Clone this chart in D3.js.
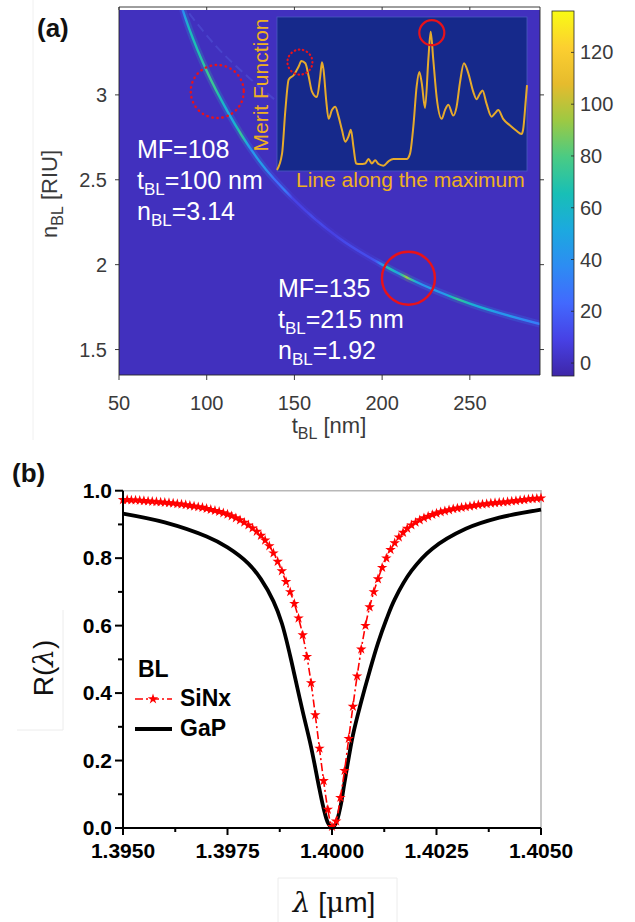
<!DOCTYPE html>
<html>
<head>
<meta charset="utf-8">
<script src="https://cdn.jsdelivr.net/npm/d3@7"></script>
<style>
  body { margin: 0; background: #fff; }
  svg { display: block; font-family: "Liberation Sans", Arial, Helvetica, sans-serif; }
</style>
</head>
<body>
<svg id="canvas"></svg>
<script>
// ---------- panel (a) data ----------
let tTicks = [50, 100, 150, 200, 250];
let nTicks = [1.5, 2, 2.5, 3];
let cbTicks = [0, 20, 40, 60, 80, 100, 120];

// ridge of the merit-function maximum (t_BL nm, n_BL)
let ridgeT = [84, 90, 100, 112, 130, 150, 175, 200, 215, 250, 290];
let ridgeN = [3.57, 3.39, 3.14, 2.90, 2.61, 2.38, 2.16, 2.0, 1.92, 1.77, 1.65];
// faint side streak next to the ridge
let streakT = [90, 105, 122, 139];
let streakN = [3.48, 3.29, 3.12, 2.97];

// merit function along the maximum (inset)
let meritT = [80, 84.4, 87.3, 90.2, 94.5, 98.9, 101.2, 104.7, 107.6, 110.5, 114.8, 117.7, 119.2, 120.6,
  122.9, 125, 127.9, 130.8, 133.7, 136.6, 139.5, 142.4, 144.4, 146.7, 149, 152.5, 156.9, 159.8, 162.7,
  165.6, 168.5, 172.8, 177.2, 181.5, 187.3, 193.1, 196, 198.9, 201.8, 204.1, 206.2, 209.1, 212, 214,
  216.3, 219.2, 223.6, 226.5, 229.4, 233.7, 236.6, 239.5, 243, 246.8, 251.1, 254, 256.9, 259.2, 262.7,
  267.1, 270, 272.9, 277.2, 283, 288.8, 293.2, 294.6, 296.9, 298];
let meritMF = [8, 23, 63, 91, 95, 103, 108, 106, 94, 80, 75, 94, 107, 100,
  72, 55, 63, 66, 57, 45, 34, 39, 45, 29, 14, 13.5, 14, 18, 14,
  17, 13.5, 12, 16, 18, 18, 18, 23, 48, 85, 98, 88, 65, 110, 135,
  109, 75, 55, 63, 68, 58, 66, 88, 106, 97, 80, 73, 78, 81, 69,
  57, 60, 63, 55, 49, 44, 41, 45, 72, 86];

// marked optima
let optima = [
  { mf: 108, t: 100, n: 3.14, ct: 106, cn: 3.02, dotted: true },
  { mf: 135, t: 215, n: 1.92, ct: 215, cn: 1.92, dotted: false }
];

// ---------- panel (b) data ----------
let lamTicks = [1.395, 1.3975, 1.4, 1.4025, 1.405];
let lamMinor = [1.39625, 1.39875, 1.40125, 1.40375];
let rTicks = [0, 0.2, 0.4, 0.6, 0.8, 1.0];
let rMinor = [0.1, 0.3, 0.5, 0.7, 0.9];

let sinxLam = [
  1.3950, 1.3951, 1.3952, 1.3953, 1.3954, 1.3955, 1.3956, 1.3957, 1.3958, 1.3959,
  1.3960, 1.3961, 1.3962, 1.3963, 1.3964, 1.3965, 1.3966, 1.3967, 1.3968, 1.3969,
  1.3970, 1.3971, 1.3972, 1.3973, 1.3974, 1.3975, 1.3976, 1.3977, 1.3978, 1.3979,
  1.3980, 1.3981, 1.3982, 1.3983, 1.3984, 1.3985, 1.3986, 1.3987, 1.3988, 1.3989,
  1.3990, 1.3991, 1.3992, 1.3993, 1.3994, 1.3995, 1.3996, 1.3997, 1.3998, 1.3999,
  1.4000, 1.4001, 1.4002, 1.4003, 1.4004, 1.4005, 1.4006, 1.4007, 1.4008, 1.4009,
  1.4010, 1.4011, 1.4012, 1.4013, 1.4014, 1.4015, 1.4016, 1.4017, 1.4018, 1.4019,
  1.4020, 1.4021, 1.4022, 1.4023, 1.4024, 1.4025, 1.4026, 1.4027, 1.4028, 1.4029,
  1.4030, 1.4031, 1.4032, 1.4033, 1.4034, 1.4035, 1.4036, 1.4037, 1.4038, 1.4039,
  1.4040, 1.4041, 1.4042, 1.4043, 1.4044, 1.4045, 1.4046, 1.4047, 1.4048, 1.4049,
  1.4050];
let sinxR = [
  0.973, 0.973, 0.972, 0.972, 0.971, 0.970, 0.969, 0.968, 0.967, 0.966,
  0.965, 0.964, 0.963, 0.961, 0.960, 0.958, 0.956, 0.954, 0.952, 0.950,
  0.947, 0.944, 0.941, 0.938, 0.934, 0.930, 0.925, 0.919, 0.913, 0.906,
  0.898, 0.889, 0.879, 0.867, 0.853, 0.836, 0.815, 0.790, 0.762, 0.730,
  0.700, 0.665, 0.622, 0.572, 0.508, 0.430, 0.335, 0.236, 0.140, 0.055,
  0.004,
  0.020, 0.090, 0.170, 0.265, 0.360, 0.450, 0.530, 0.600, 0.655, 0.700,
  0.738, 0.772, 0.800, 0.825, 0.845, 0.862, 0.876, 0.888, 0.898, 0.906,
  0.913, 0.919, 0.924, 0.929, 0.933, 0.937, 0.940, 0.943, 0.946, 0.948,
  0.950, 0.952, 0.954, 0.956, 0.958, 0.960, 0.961, 0.963, 0.964, 0.965,
  0.966, 0.967, 0.969, 0.970, 0.972, 0.973, 0.975, 0.976, 0.977, 0.978];

let gapLam = [1.3950, 1.3960, 1.3970, 1.3975, 1.3980, 1.3983, 1.3986, 1.3988, 1.3990, 1.3991,
  1.3993, 1.3995, 1.3997, 1.3998, 1.3999, 1.4000, 1.4001, 1.4002, 1.4003, 1.4005, 1.4007,
  1.4009, 1.4011, 1.4013, 1.4015, 1.4019, 1.4024, 1.4032, 1.4040, 1.4050];
let gapR = [0.932, 0.906, 0.864, 0.832, 0.784, 0.738, 0.672, 0.607, 0.510, 0.455,
  0.345, 0.240, 0.115, 0.058, 0.016, 0.0, 0.016, 0.062, 0.135, 0.275, 0.375,
  0.465, 0.548, 0.618, 0.678, 0.762, 0.828, 0.887, 0.920, 0.944];

// parula colormap samples
let parula = ["#3e26a8", "#4741e5", "#4269fe", "#2d8cf3", "#1ca9df", "#18bfb6",
  "#4acb84", "#9dc943", "#e6bb2d", "#fccf30", "#f9fb14"];

let width = 635, height = 922;
let svg = d3.select("#canvas").attr("width", width).attr("height", height);
svg.append("rect").attr("width", width).attr("height", height).attr("fill", "#fff");
let defs = svg.append("defs");

let mfMin = -5, mfMax = 136;
let colorScale = d3.scaleLinear()
  .domain(parula.map((c, i) => mfMin + i * (mfMax - mfMin) / (parula.length - 1)))
  .range(parula)
  .interpolate(d3.interpolateRgb)
  .clamp(true);

// ================= panel (a) =================
let aLeft = 119, aRight = 540, aTop = 10, aBottom = 375;
let xScale = d3.scaleLinear().domain([50, 290]).range([aLeft, aRight]);
let yScale = d3.scaleLinear().domain([1.35, 3.5]).range([aBottom, aTop]);
let axisCol = "#262626", labCol = "#3a3a3a";

// faint outline of the original figure box
svg.append("line").attr("x1", 33).attr("x2", 33).attr("y1", 0).attr("y2", 440)
  .attr("stroke", "#f0f0f0").attr("stroke-width", 1);

defs.append("clipPath").attr("id", "clipA")
  .append("rect").attr("x", aLeft).attr("y", aTop)
  .attr("width", aRight - aLeft).attr("height", aBottom - aTop);

let plotA = svg.append("g").attr("clip-path", "url(#clipA)");
plotA.append("rect").attr("x", aLeft).attr("y", aTop)
  .attr("width", aRight - aLeft).attr("height", aBottom - aTop)
  .attr("fill", colorScale(0));

// gradient along the ridge coloured by the merit function
let gx1 = xScale(meritT[0]), gx2 = xScale(meritT[meritT.length - 1]);
let ridgeGrad = defs.append("linearGradient").attr("id", "ridgeGrad")
  .attr("gradientUnits", "userSpaceOnUse")
  .attr("x1", gx1).attr("x2", gx2).attr("y1", 0).attr("y2", 0);
ridgeGrad.selectAll("stop").data(meritT).enter().append("stop")
  .attr("offset", (d) => (xScale(d) - gx1) / (gx2 - gx1))
  .attr("stop-color", (d, i) => colorScale(meritMF[i] * 0.7));

let ridgeLine = d3.line()
  .x((d) => xScale(d[0]))
  .y((d) => yScale(d[1]))
  .curve(d3.curveMonotoneX);
let ridgePts = ridgeT.map((t, i) => [t, ridgeN[i]]);
let streakPts = streakT.map((t, i) => [t, streakN[i]]);

plotA.append("path").attr("d", ridgeLine(streakPts))
  .attr("fill", "none").attr("stroke", "#5866e6").attr("stroke-width", 2)
  .attr("stroke-dasharray", "9,5").attr("opacity", 0.35);
plotA.append("path").attr("d", ridgeLine(ridgePts))
  .attr("fill", "none").attr("stroke", "url(#ridgeGrad)").attr("stroke-width", 7)
  .attr("opacity", 0.22);
plotA.append("path").attr("d", ridgeLine(ridgePts))
  .attr("fill", "none").attr("stroke", "url(#ridgeGrad)").attr("stroke-width", 2.4);

// optimum circles
plotA.selectAll("circle.opt").data(optima).enter().append("circle")
  .attr("class", "opt")
  .attr("cx", (d) => xScale(d.ct)).attr("cy", (d) => yScale(d.cn))
  .attr("r", 26.5)
  .attr("fill", "none").attr("stroke", "#e8121a").attr("stroke-width", 2.4)
  .attr("stroke-linecap", "round")
  .attr("stroke-dasharray", (d) => (d.dotted ? "0.5,4.6" : null));

// frame and ticks
let fr = svg.append("g").attr("stroke", axisCol).attr("stroke-width", 0.9).attr("fill", "none");
fr.append("path").attr("d", `M${aLeft},${aBottom}V${aTop - 3}H${aRight}V${aBottom}Z`);
tTicks.forEach((t) => {
  fr.append("line").attr("x1", xScale(t)).attr("x2", xScale(t)).attr("y1", aBottom).attr("y2", aBottom + 5);
  fr.append("line").attr("x1", xScale(t)).attr("x2", xScale(t)).attr("y1", aTop - 3).attr("y2", aTop);
});
nTicks.forEach((n) => {
  fr.append("line").attr("x1", aLeft - 4).attr("x2", aLeft).attr("y1", yScale(n)).attr("y2", yScale(n));
  fr.append("line").attr("x1", aRight).attr("x2", aRight + 4).attr("y1", yScale(n)).attr("y2", yScale(n));
});

svg.selectAll("text.tx").data(tTicks).enter().append("text")
  .attr("class", "tx").attr("x", (d) => xScale(d)).attr("y", 410)
  .attr("text-anchor", "middle").attr("font-size", 20).attr("fill", labCol)
  .text((d) => d);
svg.selectAll("text.ny").data(nTicks).enter().append("text")
  .attr("class", "ny").attr("x", 107).attr("y", (d) => yScale(d) + 7)
  .attr("text-anchor", "end").attr("font-size", 20).attr("fill", labCol)
  .text((d) => d);

// axis labels
let xl = svg.append("text").attr("x", 329).attr("y", 433).attr("text-anchor", "middle")
  .attr("font-size", 22).attr("fill", labCol);
xl.append("tspan").text("t");
xl.append("tspan").attr("font-size", 16).attr("dy", 6).text("BL");
xl.append("tspan").attr("dy", -6).text(" [nm]");

let yl = svg.append("text").attr("transform", "translate(57,194) rotate(-90)")
  .attr("text-anchor", "middle").attr("font-size", 22).attr("fill", labCol);
yl.append("tspan").text("n");
yl.append("tspan").attr("font-size", 16).attr("dy", 6).text("BL");
yl.append("tspan").attr("dy", -6).text(" [RIU]");

svg.append("text").attr("x", 37).attr("y", 37).attr("font-size", 26)
  .attr("font-weight", "bold").attr("fill", "#111").text("(a)");

// annotations
let annoPos = [{ x: 137, y: 158 }, { x: 278, y: 297 }];
optima.forEach((d, i) => {
  let g = svg.append("g").attr("fill", "#fff").attr("font-size", 25);
  let p = annoPos[i];
  g.append("text").attr("x", p.x).attr("y", p.y).text("MF=" + d.mf);
  let t2 = g.append("text").attr("x", p.x).attr("y", p.y + 31);
  t2.append("tspan").text("t");
  t2.append("tspan").attr("font-size", 17).attr("dy", 6).text("BL");
  t2.append("tspan").attr("dy", -6).text("=" + d.t + " nm");
  let t3 = g.append("text").attr("x", p.x).attr("y", p.y + 62);
  t3.append("tspan").text("n");
  t3.append("tspan").attr("font-size", 17).attr("dy", 6).text("BL");
  t3.append("tspan").attr("dy", -6).text("=" + d.n.toFixed(2));
});

// inset: merit function along the maximum
let insL = 277, insR = 527, insT = 17, insB = 171;
let insX = d3.scaleLinear().domain([80, 298]).range([insL, insR]);
let insY = d3.scaleLinear().domain([8, 148.5]).range([insB - 1, insT]);
svg.append("rect").attr("x", insL).attr("y", insT).attr("width", insR - insL).attr("height", insB - insT)
  .attr("fill", "#16298b").attr("stroke", "#4a5ac0").attr("stroke-width", 0.8);
let meritLine = d3.line()
  .x((d, i) => insX(meritT[i]))
  .y((d) => insY(d))
  .curve(d3.curveMonotoneX);
svg.append("path").attr("d", meritLine(meritMF))
  .attr("fill", "none").attr("stroke", "#e6aa2c").attr("stroke-width", 2);
optima.forEach((d) => {
  svg.append("circle").attr("cx", insX(d.t)).attr("cy", insY(d.mf) + 1).attr("r", 12.5)
    .attr("fill", "none").attr("stroke", "#e8121a").attr("stroke-width", 2.2)
    .attr("stroke-linecap", "round")
    .attr("stroke-dasharray", d.dotted ? "0.5,3.6" : null);
});
svg.append("text").attr("transform", "translate(268,85) rotate(-90)")
  .attr("text-anchor", "middle").attr("font-size", 21).attr("fill", "#efb021")
  .text("Merit Function");
svg.append("text").attr("x", 296).attr("y", 187).attr("font-size", 21).attr("fill", "#efb021")
  .text("Line along the maximum");

// colorbar
let cbL = 552, cbW = 22, cbT = 11, cbB = 376;
let cbScale = d3.scaleLinear().domain([mfMin, mfMax]).range([cbB, cbT]);
let cbGrad = defs.append("linearGradient").attr("id", "cbGrad")
  .attr("x1", 0).attr("x2", 0).attr("y1", 1).attr("y2", 0);
cbGrad.selectAll("stop").data(parula).enter().append("stop")
  .attr("offset", (d, i) => i / (parula.length - 1))
  .attr("stop-color", (d) => d);
svg.append("rect").attr("x", cbL).attr("y", cbT).attr("width", cbW).attr("height", cbB - cbT)
  .attr("fill", "url(#cbGrad)").attr("stroke", axisCol).attr("stroke-width", 0.8);
svg.selectAll("line.cbt").data(cbTicks).enter().append("line")
  .attr("class", "cbt").attr("x1", cbL + cbW - 3).attr("x2", cbL + cbW)
  .attr("y1", (d) => cbScale(d)).attr("y2", (d) => cbScale(d))
  .attr("stroke", axisCol).attr("stroke-width", 0.8);
svg.selectAll("text.cb").data(cbTicks).enter().append("text")
  .attr("class", "cb").attr("x", 580).attr("y", (d) => cbScale(d) + 7)
  .attr("font-size", 20).attr("fill", labCol).text((d) => d);

// ================= panel (b) =================
let bLeft = 123, bRight = 541, bTop = 490.7, bBottom = 828;
let lamScale = d3.scaleLinear().domain([1.395, 1.405]).range([bLeft, bRight]);
let rScale = d3.scaleLinear().domain([0, 1]).range([bBottom, bTop]);

svg.append("text").attr("x", 12).attr("y", 482).attr("font-size", 26)
  .attr("font-weight", "bold").attr("fill", "#111").text("(b)");

// light label boxes from the source figure
svg.append("path").attr("d", "M17,730H63V610").attr("fill", "none").attr("stroke", "#ececec");
svg.append("path").attr("d", "M278,922V878H397V922").attr("fill", "none").attr("stroke", "#ececec");

// top/right gray frame
svg.append("path").attr("d", `M${bLeft},${bTop}H${bRight}V${bBottom}`)
  .attr("fill", "none").attr("stroke", "#b8b8b8").attr("stroke-width", 1.6);

// GaP
let gapLine = d3.line()
  .x((d, i) => lamScale(gapLam[i]))
  .y((d) => rScale(d))
  .curve(d3.curveCatmullRom.alpha(0.5));
svg.append("path").attr("d", gapLine(gapR))
  .attr("fill", "none").attr("stroke", "#000").attr("stroke-width", 3.8)
  .attr("stroke-linejoin", "round");

// SiNx
let sinxLine = d3.line()
  .x((d, i) => lamScale(sinxLam[i]))
  .y((d) => rScale(d))
  .curve(d3.curveMonotoneX);
svg.append("path").attr("d", sinxLine(sinxR))
  .attr("fill", "none").attr("stroke", "#ff0000").attr("stroke-width", 1.6)
  .attr("stroke-dasharray", "8,3,2,3");
let star = d3.symbol().type(d3.symbolStar).size(34);
svg.selectAll("path.star").data(sinxR).enter().append("path")
  .attr("class", "star").attr("d", star)
  .attr("transform", (d, i) => `translate(${lamScale(sinxLam[i])},${rScale(d)})`)
  .attr("fill", "#ff0000");

// axes
let axB = svg.append("g").attr("stroke", "#000").attr("stroke-width", 2);
axB.append("path").attr("d", `M${bLeft},${bTop}V${bBottom}H${bRight}`).attr("fill", "none");
rTicks.forEach((r) => axB.append("line").attr("x1", bLeft - 8).attr("x2", bLeft).attr("y1", rScale(r)).attr("y2", rScale(r)));
rMinor.forEach((r) => axB.append("line").attr("x1", bLeft - 5).attr("x2", bLeft).attr("y1", rScale(r)).attr("y2", rScale(r)));
lamTicks.forEach((l) => axB.append("line").attr("x1", lamScale(l)).attr("x2", lamScale(l)).attr("y1", bBottom).attr("y2", bBottom + 7));
lamMinor.forEach((l) => axB.append("line").attr("x1", lamScale(l)).attr("x2", lamScale(l)).attr("y1", bBottom).attr("y2", bBottom + 4));

svg.selectAll("text.ry").data(rTicks).enter().append("text")
  .attr("class", "ry").attr("x", 112).attr("y", (d) => rScale(d) + 7)
  .attr("text-anchor", "end").attr("font-size", 21).attr("font-weight", "bold")
  .text((d) => d.toFixed(1));
svg.selectAll("text.lx").data(lamTicks).enter().append("text")
  .attr("class", "lx").attr("x", (d) => lamScale(d)).attr("y", 858)
  .attr("text-anchor", "middle").attr("font-size", 21).attr("font-weight", "bold")
  .text((d) => d.toFixed(4));

// axis labels
let rl = svg.append("text").attr("transform", "translate(53,668) rotate(-90)")
  .attr("text-anchor", "middle").attr("font-size", 28).attr("fill", "#111");
rl.append("tspan").text("R(");
rl.append("tspan").attr("font-family", "DejaVu Serif, serif").attr("font-style", "italic").text("λ");
rl.append("tspan").text(")");

let ll = svg.append("text").attr("x", 334).attr("y", 912)
  .attr("text-anchor", "middle").attr("font-size", 28).attr("fill", "#111");
ll.append("tspan").attr("font-family", "DejaVu Serif, serif").attr("font-style", "italic").text("λ");
ll.append("tspan").text(" [");
ll.append("tspan").attr("font-family", "DejaVu Serif, serif").text("μ");
ll.append("tspan").text("m]");

// legend
let lg = svg.append("g").attr("font-size", 23).attr("font-weight", "bold");
lg.append("text").attr("x", 138).attr("y", 677).text("BL");
lg.append("line").attr("x1", 135).attr("x2", 172).attr("y1", 699).attr("y2", 699)
  .attr("stroke", "#ff0000").attr("stroke-width", 1.6).attr("stroke-dasharray", "8,3,2,3");
lg.append("path").attr("d", star).attr("transform", "translate(153,699)").attr("fill", "#ff0000");
lg.append("text").attr("x", 180).attr("y", 706).text("SiNx");
lg.append("line").attr("x1", 135).attr("x2", 172).attr("y1", 729).attr("y2", 729)
  .attr("stroke", "#000").attr("stroke-width", 4);
lg.append("text").attr("x", 180).attr("y", 736).text("GaP");
</script>
</body>
</html>
